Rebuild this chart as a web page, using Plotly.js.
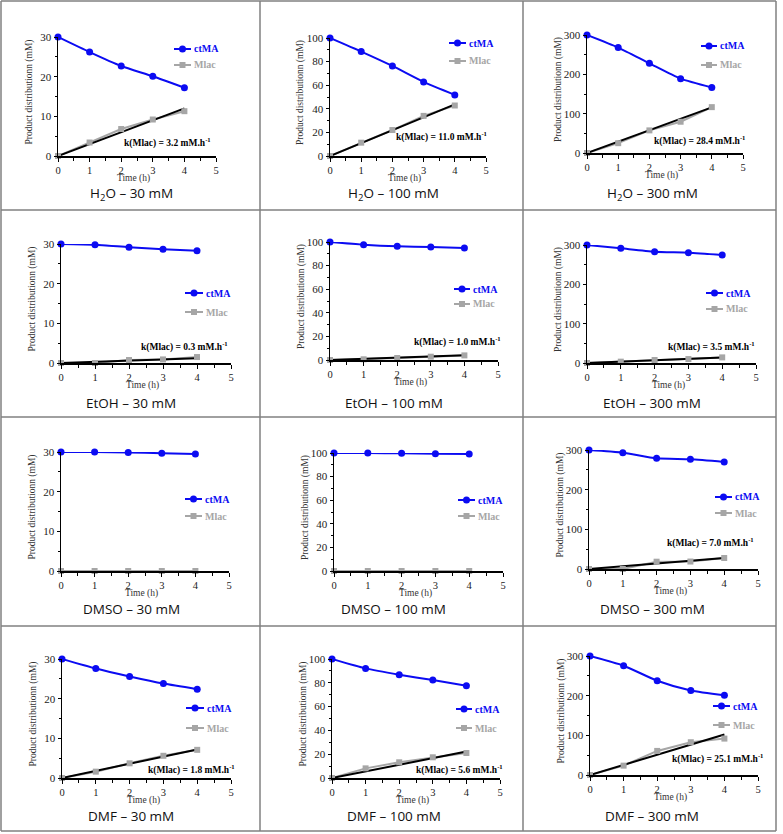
<!DOCTYPE html>
<html>
<head>
<meta charset="utf-8">
<script src="https://cdn.plot.ly/plotly-3.0.1.min.js"></script>
<style>html,body{margin:0;padding:0;background:#fff;}#chart{width:783px;height:834px;}</style>
</head>
<body>
<div id="chart"></div>
<script>
// ---------- DATA ----------
const time = [0, 1, 2, 3, 4];
const solvents = ['H<sub>2</sub>O', 'EtOH', 'DMSO', 'DMF'];
const concentrations = [30, 100, 300];
const yMax = [30, 100, 300];
const yTick = [10, 20, 100];

const ctMA_H2O_30 = [30, 26.2, 22.7, 20.1, 17.2];
const Mlac_H2O_30 = [0, 3.4, 6.8, 9.2, 11.3];
const ctMA_H2O_100 = [100, 88.5, 76.3, 62.8, 51.8];
const Mlac_H2O_100 = [0, 11.3, 22.0, 34.0, 42.8];
const ctMA_H2O_300 = [300, 268, 228, 189, 166.5];
const Mlac_H2O_300 = [0, 25, 57.5, 79.5, 116.6];

const ctMA_EtOH_30 = [30, 29.8, 29.2, 28.7, 28.3];
const Mlac_EtOH_30 = [0, 0, 0.75, 0.9, 1.5];
const ctMA_EtOH_100 = [100, 97.7, 96.3, 95.8, 94.9];
const Mlac_EtOH_100 = [0, 0.6, 1.7, 2.8, 3.9];
const ctMA_EtOH_300 = [300, 291.5, 283, 280.5, 274.6];
const Mlac_EtOH_300 = [0, 3.4, 7.6, 10, 14.3];

const ctMA_DMSO_30 = [30, 30, 29.9, 29.7, 29.5];
const Mlac_DMSO_30 = [0, 0, 0, 0, 0];
const ctMA_DMSO_100 = [100, 100, 99.7, 99.4, 99.2];
const Mlac_DMSO_100 = [0, 0, 0, 0, 0];
const ctMA_DMSO_300 = [300, 293.3, 279, 276.6, 270];
const Mlac_DMSO_300 = [0, 0, 18.4, 18.8, 27.7];

const ctMA_DMF_30 = [30, 27.6, 25.6, 23.8, 22.4];
const Mlac_DMF_30 = [0, 1.6, 3.7, 5.6, 7.1];
const ctMA_DMF_100 = [100, 92.1, 86.8, 82.3, 77.5];
const Mlac_DMF_100 = [0, 8.1, 13.2, 17.4, 21.0];
const ctMA_DMF_300 = [300, 275.5, 237.6, 213, 201];
const Mlac_DMF_300 = [0, 23.6, 60.7, 82.6, 91.8];

// rate constants k(Mlac) (mM/h) and fitted-line value at t = 4 h
const k_H2O = [3.2, 11.0, 28.4];
const k_EtOH = [0.3, 1.0, 3.5];
const k_DMSO = [null, null, 7.0];
const k_DMF = [1.8, 5.6, 25.1];
const fitEnd_H2O = [12.0, 43.7, 116];
const fitEnd_EtOH = [1.2, 4.0, 14];
const fitEnd_DMSO = [null, null, 28];
const fitEnd_DMF = [7.2, 22.2, 102];

const ctMA = [
  [ctMA_H2O_30, ctMA_H2O_100, ctMA_H2O_300],
  [ctMA_EtOH_30, ctMA_EtOH_100, ctMA_EtOH_300],
  [ctMA_DMSO_30, ctMA_DMSO_100, ctMA_DMSO_300],
  [ctMA_DMF_30, ctMA_DMF_100, ctMA_DMF_300]
];
const Mlac = [
  [Mlac_H2O_30, Mlac_H2O_100, Mlac_H2O_300],
  [Mlac_EtOH_30, Mlac_EtOH_100, Mlac_EtOH_300],
  [Mlac_DMSO_30, Mlac_DMSO_100, Mlac_DMSO_300],
  [Mlac_DMF_30, Mlac_DMF_100, Mlac_DMF_300]
];
const kVals = [k_H2O, k_EtOH, k_DMSO, k_DMF];
const fitEnd = [fitEnd_H2O, fitEnd_EtOH, fitEnd_DMSO, fitEnd_DMF];

// ---------- LAYOUT GEOMETRY (pixels) ----------
const W = 783, H = 834;
const px = x => x / W;
const py = y => 1 - y / H;
// plot boxes: [x at t=0, x at t=5, y at yMax, y at 0]
const boxes = [
  [58, 216, 37, 156], [330, 486, 38, 156], [587, 743, 35, 153],
  [61, 231, 244, 363], [330, 498, 242, 360], [587, 756, 245, 363],
  [61, 229, 452, 571], [334, 503, 453, 571], [589, 758, 450, 569],
  [62, 231, 659, 778], [332, 500, 659, 778], [590, 758, 656, 775]
];
// legend: [line x0, line x1, ctMA y, Mlac y]
const legPos = [
  [174, 191, 49, 65], [449, 466, 43, 61], [701, 717, 46, 65],
  [185, 203, 293, 312], [454, 470, 289, 304], [706, 723, 293, 309],
  [185, 202, 499, 516], [458, 475, 500, 516], [715, 732, 497, 513],
  [186, 204, 708, 728], [456, 472, 709, 728], [713, 730, 706, 725]
];
// k annotation: [right x, center y]
const kPos = [
  [213, 142], [489, 136], [747, 140],
  [230, 346], [503, 341], [757, 346],
  null, null, [756, 542],
  [237, 769], [505, 769], [765, 758]
];
const titleY = [194, 403, 609, 816];
const titleX = [131, 394, 652];

const BLUE = '#0B0BF2', GRAY = '#A6A6A6';
const SERIF = 'Liberation Serif, Times New Roman, serif';

const traces = [], annotations = [], shapes = [];
const layout = {
  width: W, height: H,
  margin: {l: 0, r: 0, t: 0, b: 0},
  paper_bgcolor: '#fff', plot_bgcolor: 'rgba(0,0,0,0)',
  showlegend: false
};

for (let r = 0; r < 4; r++) {
  for (let c = 0; c < 3; c++) {
    const i = r * 3 + c;
    const n = i === 0 ? '' : String(i + 1);
    const [x0, x5, yT, yB] = boxes[i];
    const xa = 'x' + n, ya = 'y' + n;

    layout['xaxis' + n] = {
      domain: [px(x0), px(x5)], range: [0, 5], anchor: ya,
      tickvals: [0, 1, 2, 3, 4, 5],
      ticks: 'outside', ticklen: 4, tickwidth: 1, tickcolor: '#000',
      minor: {dtick: 0.5, tick0: 0, ticks: 'outside', ticklen: 3, tickcolor: '#000', showgrid: false},
      showline: true, linecolor: '#000', linewidth: 1.5,
      showgrid: false, zeroline: false, fixedrange: true,
      tickfont: {family: SERIF, size: 10.5, color: '#222'}
    };
    layout['yaxis' + n] = {
      domain: [py(yB), py(yT)], range: [0, yMax[c]], anchor: xa,
      dtick: yTick[c], tick0: 0,
      ticks: 'outside', ticklen: 3, tickwidth: 1, tickcolor: '#000',
      minor: {dtick: yTick[c] / 2, tick0: 0, ticks: 'outside', ticklen: 2, tickcolor: '#000', showgrid: false},
      showline: true, linecolor: '#000', linewidth: 1.5,
      showgrid: false, zeroline: false, fixedrange: true,
      tickfont: {family: SERIF, size: 11, color: '#222'}
    };

    // Mlac line
    traces.push({x: time, y: Mlac[r][c], xaxis: xa, yaxis: ya, mode: 'lines',
      line: {color: GRAY, width: 2}, cliponaxis: false, hoverinfo: 'skip'});
    // fitted line
    if (fitEnd[r][c] !== null) {
      traces.push({x: [time[0], time[4]], y: [0, fitEnd[r][c]], xaxis: xa, yaxis: ya, mode: 'lines',
        line: {color: '#000', width: 2}, cliponaxis: false, hoverinfo: 'skip'});
    }
    // Mlac markers
    traces.push({x: time, y: Mlac[r][c], xaxis: xa, yaxis: ya, mode: 'markers',
      marker: {symbol: 'square', size: 6, color: GRAY}, cliponaxis: false, name: 'Mlac'});
    // ctMA
    traces.push({x: time, y: ctMA[r][c], xaxis: xa, yaxis: ya, mode: 'lines+markers',
      line: {color: BLUE, width: 2, shape: 'spline', smoothing: 0.6},
      marker: {symbol: 'circle', size: 7, color: BLUE}, cliponaxis: false, name: 'ctMA'});

    // y title
    annotations.push({xref: 'paper', yref: 'paper', x: px(x0 - 29), y: py((yT + yB) / 2 - 4),
      text: 'Product distributionn (mM)', textangle: -90, showarrow: false,
      xanchor: 'center', yanchor: 'middle',
      font: {family: SERIF, size: 9.5, color: '#333'}});
    // x title
    annotations.push({xref: 'paper', yref: 'paper', x: px(x0 + 2.4 * (x5 - x0) / 5), y: py(yB + 22),
      text: 'Time (h)', showarrow: false, xanchor: 'center', yanchor: 'middle',
      font: {family: SERIF, size: 9.5, color: '#333'}});
    // panel title
    annotations.push({xref: 'paper', yref: 'paper', x: px(titleX[c]), y: py(titleY[r]),
      text: solvents[r] + ' \u2013 ' + concentrations[c] + ' mM', showarrow: false,
      xanchor: 'center', yanchor: 'middle',
      font: {family: 'Open Sans, Noto Sans, sans-serif', size: 13.5, color: '#111'}});
    // k annotation
    if (kVals[r][c] !== null) {
      const [kx, ky] = kPos[i];
      annotations.push({xref: 'paper', yref: 'paper', x: px(kx), y: py(ky),
        text: '<b>k(Mlac) = ' + kVals[r][c].toFixed(1) + ' mM.h<sup>-1</sup></b>', showarrow: false,
        xanchor: 'right', yanchor: 'middle',
        font: {family: SERIF, size: 9.5, color: '#000'}});
    }
    // legend
    const [lx0, lx1, lyC, lyM] = legPos[i];
    const lm = (lx0 + lx1) / 2;
    shapes.push({type: 'line', xref: 'paper', yref: 'paper', x0: px(lx0), x1: px(lx1), y0: py(lyC), y1: py(lyC),
      line: {color: BLUE, width: 2}});
    shapes.push({type: 'circle', xref: 'paper', yref: 'paper', x0: px(lm - 3.5), x1: px(lm + 3.5),
      y0: py(lyC + 3.5), y1: py(lyC - 3.5), fillcolor: BLUE, line: {width: 0}});
    shapes.push({type: 'line', xref: 'paper', yref: 'paper', x0: px(lx0), x1: px(lx1), y0: py(lyM), y1: py(lyM),
      line: {color: GRAY, width: 2}});
    shapes.push({type: 'rect', xref: 'paper', yref: 'paper', x0: px(lm - 3), x1: px(lm + 3),
      y0: py(lyM + 3), y1: py(lyM - 3), fillcolor: GRAY, line: {width: 0}});
    annotations.push({xref: 'paper', yref: 'paper', x: px(lx1 + 1), y: py(lyC), text: '<b>ctMA</b>',
      showarrow: false, xanchor: 'left', yanchor: 'middle',
      font: {family: SERIF, size: 10, color: BLUE}});
    annotations.push({xref: 'paper', yref: 'paper', x: px(lx1 + 1), y: py(lyM), text: '<b>Mlac</b>',
      showarrow: false, xanchor: 'left', yanchor: 'middle',
      font: {family: SERIF, size: 10, color: GRAY}});
  }
}

// cell borders
const vLines = [1, 260, 523, 776];
const hLines = [1, 210, 417, 626, 831];
vLines.forEach(v => shapes.push({type: 'line', xref: 'paper', yref: 'paper',
  x0: px(v), x1: px(v), y0: py(1), y1: py(831), line: {color: '#808080', width: 1.5}}));
hLines.forEach(h => shapes.push({type: 'line', xref: 'paper', yref: 'paper',
  x0: px(1), x1: px(776), y0: py(h), y1: py(h), line: {color: '#808080', width: 1.5}}));

layout.annotations = annotations;
layout.shapes = shapes;

Plotly.newPlot('chart', traces, layout, {staticPlot: true, displayModeBar: false});
</script>
</body>
</html>
